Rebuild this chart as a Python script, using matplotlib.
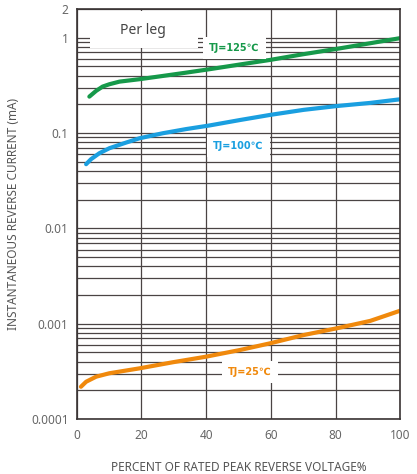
"""Reverse leakage current vs percent of rated peak reverse voltage (per leg)."""
import matplotlib
matplotlib.use("Agg")
import matplotlib.pyplot as plt
from matplotlib.patches import Rectangle

plt.rcParams["font.family"] = ["Noto Sans", "Noto Sans CJK SC", "DejaVu Sans"]

# curves (x in %, y in mA)
X_125 = [3.9, 6.0, 8.0, 10.1, 13.2, 19.4, 26.6, 33.8, 41.0, 50.5, 59.8, 70.1, 80.4, 90.7, 100.0]
Y_125 = [0.241, 0.277, 0.307, 0.325, 0.346, 0.367, 0.397, 0.430, 0.467, 0.524, 0.585,
         0.672, 0.764, 0.875, 0.99]

X_100 = [2.9, 4.4, 7.0, 10.1, 15.2, 19.4, 26.6, 33.8, 41.0, 50.5, 59.8, 70.1, 80.4, 90.7, 100.0]
Y_100 = [0.0471, 0.0531, 0.0614, 0.0693, 0.0793, 0.0881, 0.0995, 0.110, 0.120, 0.137,
         0.155, 0.175, 0.192, 0.207, 0.226]

X_25 = [1.3, 2.9, 6.0, 10.1, 19.4, 29.7, 40.0, 50.5, 59.8, 70.1, 80.4, 90.7, 100.0]
Y_25 = [2.18e-4, 2.46e-4, 2.78e-4, 3.02e-4, 3.40e-4, 3.94e-4, 4.51e-4, 5.3e-4, 6.23e-4,
        7.6e-4, 8.95e-4, 1.07e-3, 1.37e-3]

SERIES = [
    ("TJ=125℃", X_125, Y_125, "#16994a", (48.7, 0.78)),
    ("TJ=100℃", X_100, Y_100, "#1a9fe0", (49.9, 0.0733)),
    ("TJ=25℃", X_25, Y_25, "#f0890c", (53.6, 3.11e-4)),
]

X_TICKS = [0, 20, 40, 60, 80, 100]
Y_TICKS = [0.0001, 0.001, 0.01, 0.1, 1, 2]
Y_TICKLABELS = ["0.0001", "0.001", "0.01", "0.1", "1", "2"]

fig = plt.figure(figsize=(4.17, 4.74), dpi=100)
ax = fig.add_axes([0.184, 0.116, 0.776, 0.865])

ax.set_yscale("log")
ax.set_xlim(0, 100)
ax.set_ylim(0.0001, 2)
ax.set_axisbelow(True)

ax.grid(True, which="both", color="#4a4444", linewidth=0.9)
ax.set_xticks(X_TICKS)
ax.set_yticks(Y_TICKS)
ax.set_yticklabels(Y_TICKLABELS)
ax.tick_params(which="both", length=0, colors="#666666", labelsize=8.5, pad=6)
ax.tick_params(axis="x", pad=7)
for sp in ax.spines.values():
    sp.set_color("#3a3434")
    sp.set_linewidth(1.2)

# white box behind "Per leg"
ax.add_patch(Rectangle((0.04, 0.905), 0.335, 0.09, transform=ax.transAxes,
                       facecolor="white", edgecolor="none", zorder=1))
ax.text(20.5, 1.18, "Per leg", ha="center", va="center", fontsize=10,
        color="#444444", zorder=3)

for label, xs, ys, color, (tx, ty) in SERIES:
    ax.plot(xs, ys, color=color, linewidth=3, solid_capstyle="round",
            solid_joinstyle="round", zorder=2)
    ax.text(tx, ty, label, ha="center", va="center", fontsize=7,
            fontweight="bold", color=color, zorder=4,
            family=["DejaVu Sans"],
            bbox=dict(facecolor="white", edgecolor="none", pad=4.5))

ax.set_xlabel("PERCENT OF RATED PEAK REVERSE VOLTAGE%", fontsize=8.5,
              color="#555555", labelpad=14)
ax.set_ylabel("INSTANTANEOUS REVERSE CURRENT (mA)", fontsize=8.5,
              color="#555555", labelpad=8)

fig.savefig("out.png", dpi=100)
